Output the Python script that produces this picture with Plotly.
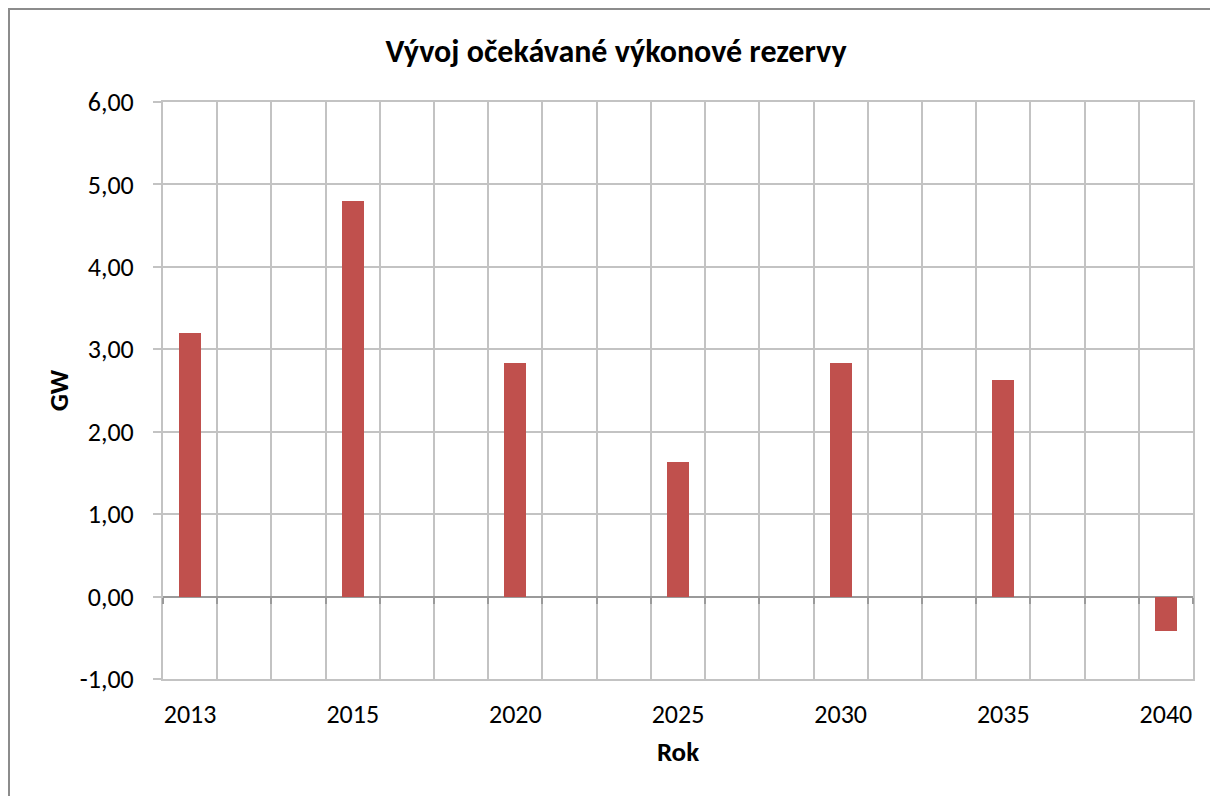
import plotly.graph_objects as go

# Expected capacity reserve (GW) by year
years = ["2013", "2015", "2020", "2025", "2030", "2035", "2040"]
reserve_gw = [3.20, 4.80, 2.83, 1.63, 2.83, 2.63, -0.42]

y_ticks = [-1, 0, 1, 2, 3, 4, 5, 6]
# Czech number format with a plain hyphen for negatives
y_tick_text = [f"{v:.2f}".replace(".", ",") for v in y_ticks]

# Each labelled year sits on every third slot of a 19-slot category band
SLOTS_PER_YEAR = 3
positions = [i * SLOTS_PER_YEAR for i in range(len(years))]
n_slots = (len(years) - 1) * SLOTS_PER_YEAR + 1
x_range = [-0.5, n_slots - 0.5]
slot_bounds = [s - 0.5 for s in range(n_slots + 1)]
y_range = [y_ticks[0], y_ticks[-1]]
zero_frac = (0 - y_range[0]) / (y_range[1] - y_range[0])

W, H = 1210, 796
M_L, M_R, M_T, M_B = 163, 17, 102, 117
plot_w = W - M_L - M_R
plot_h = H - M_T - M_B

FONT = "Carlito, Calibri, Lato, sans-serif"
GRID = "#C3C3C3"
AXIS = "#9A9A9A"

fig = go.Figure(
    go.Bar(
        x=positions,
        y=reserve_gw,
        width=0.41,
        marker=dict(color="#C0504D", line=dict(width=0)),
        hovertemplate="%{text}: %{y:.2f} GW<extra></extra>",
        text=years,
        textposition="none",
    )
)
# Empty trace so the category-boundary tick axis along y = 0 is rendered
fig.add_trace(go.Scatter(x=[], y=[], xaxis="x2", yaxis="y", showlegend=False, hoverinfo="skip"))

fig.update_layout(
    width=W,
    height=H,
    margin=dict(l=M_L, r=M_R, t=M_T, b=M_B),
    paper_bgcolor="white",
    plot_bgcolor="white",
    separators=",.",
    showlegend=False,
    font=dict(family=FONT, size=26, color="#000000"),
    title=dict(
        text="<b>Vývoj očekávané výkonové rezervy</b>",
        x=616 / W,
        xref="container",
        xanchor="center",
        y=1 - 51 / H,
        yref="container",
        yanchor="middle",
        font=dict(family=FONT, size=32, color="#000000"),
    ),
    bargap=0,
    xaxis=dict(
        range=x_range,
        tickmode="array",
        tickvals=positions,
        ticktext=years,
        showgrid=False,
        zeroline=False,
        ticks="",
        ticklabelstandoff=11,
        tickfont=dict(family=FONT, size=26),
        showline=True,
        mirror=True,
        linecolor=GRID,
        linewidth=2,
        minor=dict(tick0=-0.5, dtick=1, showgrid=True, gridcolor=GRID, gridwidth=2),
        title=dict(text="<b>Rok</b>", font=dict(family=FONT, size=27), standoff=13),
        fixedrange=True,
    ),
    xaxis2=dict(
        overlaying="x",
        anchor="free",
        position=zero_frac,
        side="bottom",
        range=x_range,
        tickmode="array",
        tickvals=slot_bounds,
        ticks="outside",
        ticklen=6,
        tickwidth=2,
        tickcolor=AXIS,
        showticklabels=False,
        showgrid=False,
        zeroline=False,
        showline=False,
        fixedrange=True,
    ),
    yaxis=dict(
        range=y_range,
        tickmode="array",
        tickvals=y_ticks,
        ticktext=y_tick_text,
        showgrid=True,
        gridcolor=GRID,
        gridwidth=2,
        zeroline=True,
        zerolinecolor=AXIS,
        zerolinewidth=2,
        showline=True,
        mirror=True,
        linecolor=GRID,
        linewidth=2,
        ticks="outside",
        ticklen=8,
        tickwidth=2,
        tickcolor=GRID,
        ticklabelstandoff=14,
        tickfont=dict(family=FONT, size=26),
        title=dict(text="<b>GW</b>", font=dict(family=FONT, size=27), standoff=3),
        fixedrange=True,
    ),
)

# Chart-area frame
fig.add_shape(
    type="rect",
    xref="paper",
    yref="paper",
    x0=(9 - M_L) / plot_w,
    x1=(W + 20 - M_L) / plot_w,
    y0=(M_B - (H + 20)) / plot_h,
    y1=(H - 9 - M_B) / plot_h,
    line=dict(color="#8C8C8C", width=2),
    fillcolor="rgba(0,0,0,0)",
    layer="above",
)

fig.write_html("out.html", config={"displayModeBar": False})
